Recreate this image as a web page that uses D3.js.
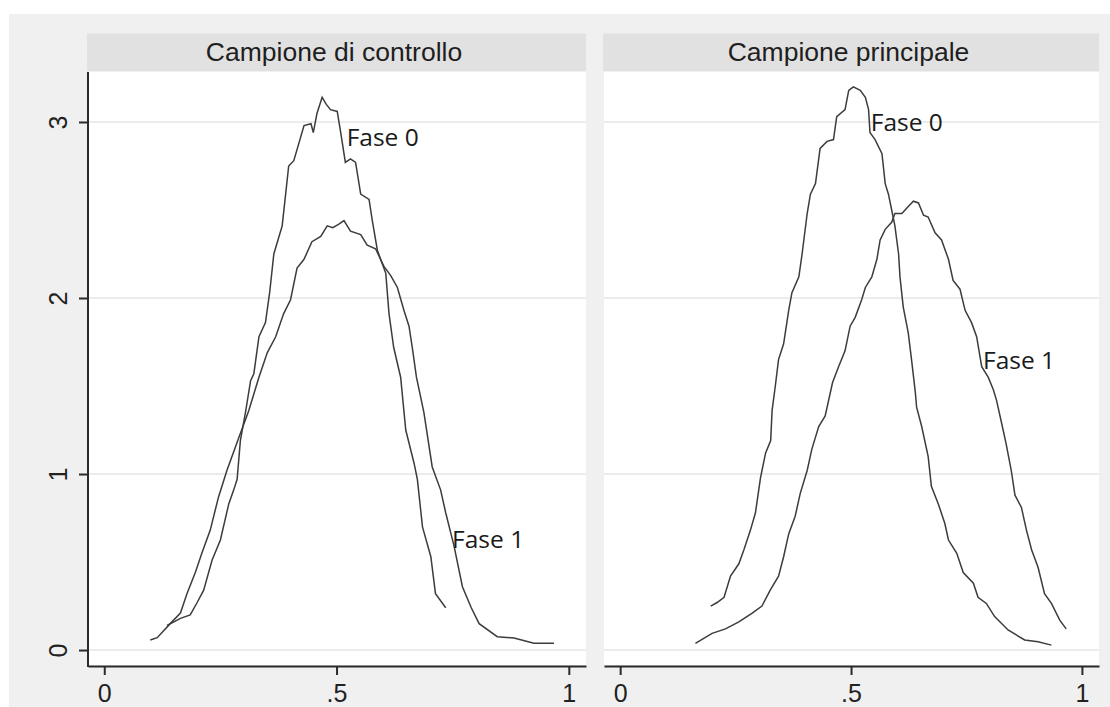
<!DOCTYPE html>
<html>
<head>
<meta charset="utf-8">
<script src="https://cdn.jsdelivr.net/npm/d3@7"></script>
<style>
  html, body { margin: 0; padding: 0; background: #ffffff; }
  svg { display: block; }
</style>
</head>
<body>
<svg id="chart" width="1110" height="707"></svg>
<script>
// ---------- DATA ----------
const panelTitles = ["Campione di controllo", "Campione principale"];
const seriesNames = ["Fase 0", "Fase 1"];
const xTickValues = [0, 0.5, 1];
const xTickLabels = ["0", ".5", "1"];
const yTickValues = [0, 1, 2, 3];
const yTickLabels = ["0", "1", "2", "3"];

// Campione di controllo – Fase 0  [x, density]
const ctrlFase0 = [
  [0.135,0.14],[0.150,0.16],[0.164,0.18],[0.185,0.20],[0.200,0.27],[0.214,0.34],[0.232,0.51],[0.250,0.625],
  [0.268,0.83],[0.280,0.92],[0.286,0.97],[0.293,1.19],[0.304,1.35],[0.315,1.53],[0.322,1.57],
  [0.333,1.78],[0.347,1.86],[0.356,2.03],[0.365,2.25],[0.383,2.41],[0.390,2.58],[0.397,2.75],
  [0.408,2.78],[0.430,2.98],[0.445,2.99],[0.450,2.94],[0.458,3.05],[0.469,3.14],[0.478,3.10],[0.487,3.07],
  [0.5015,3.06],[0.509,2.94],[0.519,2.77],[0.530,2.79],[0.541,2.77],[0.552,2.59],[0.570,2.56],
  [0.577,2.44],[0.588,2.27],[0.606,2.14],[0.613,1.91],[0.623,1.72],[0.638,1.55],[0.649,1.25],
  [0.667,1.06],[0.674,0.97],[0.685,0.70],[0.703,0.53],[0.713,0.32],[0.735,0.24]
];
// Campione di controllo – Fase 1
const ctrlFase1 = [
  [0.099,0.057],[0.114,0.07],[0.142,0.15],[0.164,0.21],[0.178,0.32],[0.196,0.44],[0.210,0.55],
  [0.228,0.68],[0.246,0.87],[0.264,1.02],[0.286,1.18],[0.311,1.36],[0.333,1.55],[0.351,1.69],
  [0.369,1.78],[0.386,1.91],[0.401,1.99],[0.415,2.17],[0.430,2.22],[0.447,2.32],[0.466,2.35],
  [0.480,2.41],[0.492,2.40],[0.505,2.42],[0.516,2.44],[0.530,2.38],[0.552,2.36],[0.566,2.30],[0.584,2.28],
  [0.602,2.18],[0.616,2.13],[0.631,2.06],[0.645,1.93],[0.656,1.84],[0.663,1.72],[0.672,1.55],
  [0.688,1.35],[0.706,1.04],[0.724,0.91],[0.735,0.78],[0.753,0.59],[0.771,0.36],[0.790,0.24],[0.807,0.15],
  [0.846,0.076],[0.882,0.068],[0.925,0.038],[0.968,0.038]
];
// Campione principale – Fase 0
const mainFase0 = [
  [0.196,0.25],[0.210,0.27],[0.225,0.30],[0.239,0.42],[0.257,0.49],[0.268,0.57],[0.282,0.68],[0.293,0.78],
  [0.304,0.98],[0.315,1.12],[0.326,1.19],[0.329,1.36],[0.336,1.50],[0.343,1.65],[0.354,1.74],
  [0.365,1.93],[0.372,2.03],[0.387,2.12],[0.394,2.25],[0.405,2.48],[0.412,2.59],[0.423,2.65],
  [0.433,2.85],[0.448,2.89],[0.462,2.90],[0.469,3.03],[0.487,3.07],[0.495,3.18],[0.505,3.20],
  [0.520,3.18],[0.531,3.14],[0.538,3.07],[0.541,2.94],[0.552,2.90],[0.567,2.82],[0.574,2.65],[0.581,2.59],
  [0.588,2.50],[0.595,2.41],[0.603,2.25],[0.606,2.12],[0.613,1.95],[0.624,1.80],[0.631,1.65],
  [0.639,1.47],[0.642,1.38],[0.653,1.27],[0.667,1.10],[0.674,0.93],[0.689,0.83],[0.703,0.72],
  [0.711,0.625],[0.729,0.55],[0.743,0.44],[0.765,0.38],[0.775,0.30],[0.793,0.265],[0.811,0.19],
  [0.840,0.114],[0.876,0.057],[0.905,0.047],[0.934,0.028]
];
// Campione principale – Fase 1
const mainFase1 = [
  [0.163,0.038],[0.199,0.095],[0.228,0.12],[0.257,0.16],[0.286,0.21],[0.307,0.25],[0.325,0.34],
  [0.343,0.42],[0.354,0.53],[0.365,0.66],[0.379,0.76],[0.390,0.89],[0.405,1.02],[0.415,1.14],
  [0.430,1.27],[0.444,1.33],[0.460,1.52],[0.473,1.61],[0.487,1.70],[0.498,1.84],[0.509,1.89],
  [0.523,1.99],[0.531,2.06],[0.545,2.12],[0.556,2.22],[0.563,2.33],[0.574,2.39],[0.588,2.43],
  [0.595,2.48],[0.610,2.48],[0.624,2.52],[0.635,2.55],[0.646,2.54],[0.657,2.47],[0.667,2.46],
  [0.682,2.37],[0.696,2.33],[0.711,2.22],[0.721,2.10],[0.736,2.05],[0.747,1.93],[0.761,1.86],
  [0.772,1.78],[0.783,1.61],[0.797,1.55],[0.808,1.48],[0.815,1.42],[0.826,1.29],[0.836,1.17],
  [0.847,1.02],[0.855,0.88],[0.869,0.81],[0.880,0.68],[0.891,0.57],[0.905,0.47],[0.919,0.32],
  [0.934,0.265],[0.952,0.17],[0.966,0.12]
];
// Points (data coordinates) where each series label is attached
const ctrlLabelPoints = [[0.511, 2.92], [0.738, 0.635]];
const mainLabelPoints = [[0.532, 3.00], [0.775, 1.65]];

// ---------- LAYOUT ----------
const W = 1110, H = 707;
const plotTop = 72, plotBottom = 665;
const panelsX = [[88, 586], [604, 1099]];
const xDomain = [-0.035, 1.037];
const yDomain = [-0.085, 3.284];
const stripTop = 33.5;

const svg = d3.select("#chart");

// outer background
svg.append("rect").attr("x", 9).attr("y", 14).attr("width", W - 9).attr("height", H - 14)
   .attr("fill", "#f0f0f0");

const y = d3.scaleLinear().domain(yDomain).range([plotBottom, plotTop]);

const panels = [
  { title: panelTitles[0], series: [ctrlFase0, ctrlFase1], labels: ctrlLabelPoints },
  { title: panelTitles[1], series: [mainFase0, mainFase1], labels: mainLabelPoints }
];

const line = d3.line();

panels.forEach((p, i) => {
  const [x0, x1] = panelsX[i];
  const x = d3.scaleLinear().domain(xDomain).range([x0, x1]);
  const g = svg.append("g");

  // strip
  g.append("rect").attr("x", x0 - 1).attr("y", stripTop).attr("width", x1 - x0 + 1)
   .attr("height", plotTop - stripTop - 1).attr("fill", "#e1e1e1");
  g.append("text").attr("x", (x0 + x1) / 2 - 3).attr("y", 60.5)
   .attr("text-anchor", "middle")
   .attr("font-family", "'Liberation Sans', Arial, sans-serif")
   .attr("font-size", 26.5).attr("fill", "#1e1e1e")
   .text(p.title);

  // plot region
  g.append("rect").attr("x", x0).attr("y", plotTop).attr("width", x1 - x0)
   .attr("height", plotBottom - plotTop).attr("fill", "#ffffff");

  // gridlines
  g.append("g").selectAll("line").data(yTickValues).join("line")
   .attr("x1", x0).attr("x2", x1)
   .attr("y1", d => y(d)).attr("y2", d => y(d))
   .attr("stroke", "#ececec").attr("stroke-width", 2);

  // curves
  p.series.forEach(s => {
    g.append("path").datum(s)
     .attr("d", line.x(d => x(d[0])).y(d => y(d[1])))
     .attr("fill", "none").attr("stroke", "#3c3c3c").attr("stroke-width", 1.5)
     .attr("stroke-linejoin", "miter");
  });

  // series labels
  p.labels.forEach((pt, k) => {
    g.append("text").attr("x", x(pt[0]) + 5).attr("y", y(pt[1]))
     .attr("dominant-baseline", "central")
     .attr("font-family", "'Open Sans', sans-serif")
     .attr("font-size", 24.5).attr("fill", "#1a1a1a")
     .text(seriesNames[k]);
  });

  // x axis
  const xAxis = d3.axisBottom(x).tickValues(xTickValues)
    .tickFormat((d, j) => xTickLabels[j]).tickSize(9).tickSizeOuter(0).tickPadding(9);
  const gx = g.append("g").attr("transform", `translate(0,${plotBottom + 1})`).call(xAxis);
  gx.select(".domain").attr("stroke", "#2a2a2a").attr("stroke-width", 2);
  gx.selectAll(".tick line").attr("stroke", "#2a2a2a").attr("stroke-width", 2);
  gx.selectAll(".tick text").attr("font-family", "'Liberation Sans', Arial, sans-serif")
    .attr("font-size", 25).attr("fill", "#222");

  // y axis only on first panel
  if (i === 0) {
    const yAxis = d3.axisLeft(y).tickValues(yTickValues)
      .tickFormat((d, j) => yTickLabels[j]).tickSize(9).tickSizeOuter(0).tickPadding(12);
    const gy = g.append("g").attr("transform", `translate(${x0},0)`).call(yAxis);
    gy.select(".domain").attr("stroke", "#2a2a2a").attr("stroke-width", 2)
      .attr("d", `M0,${plotTop}V${plotBottom + 2}`);
    gy.selectAll(".tick line").attr("stroke", "#2a2a2a").attr("stroke-width", 2);
    gy.selectAll(".tick text")
      .attr("font-family", "'Liberation Sans', Arial, sans-serif")
      .attr("font-size", 25).attr("fill", "#222")
      .attr("text-anchor", "middle").attr("dy", null)
      .attr("transform", "rotate(-90)")
      .attr("x", 0).attr("y", -21);
  }
});
</script>
</body>
</html>
